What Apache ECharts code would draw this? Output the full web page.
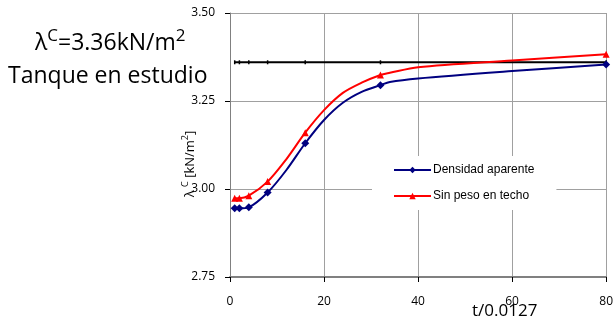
<!DOCTYPE html>
<html>
<head>
<meta charset="utf-8" />
<title>lambda C</title>
<script src="https://cdn.jsdelivr.net/npm/echarts@6.0.0/dist/echarts.min.js"></script>
<style>
  html, body { margin: 0; padding: 0; background: #fff; }
  #main { width: 616px; height: 322px; }
</style>
</head>
<body>
<div id="main"></div>
<script>
// datos
var tDensidad = [1, 2, 4, 8, 12, 16, 20, 24, 28, 32, 34, 40, 60, 80];
var vDensidad = [2.945, 2.945, 2.948, 2.990, 3.054, 3.130, 3.196, 3.245, 3.276, 3.295, 3.304, 3.314, 3.335, 3.354];
var tSinPeso = [1, 2, 4, 8, 12, 16, 20, 24, 28, 32, 34, 40, 60, 80];
var vSinPeso = [2.974, 2.974, 2.981, 3.021, 3.085, 3.160, 3.224, 3.273, 3.302, 3.324, 3.330, 3.346, 3.365, 3.383];
var tRef = [1, 2, 4, 8, 16, 32, 80];
var vRef = [3.36, 3.36, 3.36, 3.36, 3.36, 3.36, 3.36];
var conMarca = [1, 2, 4, 8, 16, 32, 80]; // puntos con marcador
var yTicks = [2.75, 3.00, 3.25, 3.50];
var xTicks = [0, 20, 40, 60, 80];
var nombres = ['Densidad aparente', 'Sin peso en techo'];

function pares(t, v) {
  return t.map(function (x, i) { return [x, v[i]]; });
}
function tamMarca(s) {
  return function (val) { return conMarca.indexOf(val[0]) >= 0 ? s : 0; };
}

var chart = echarts.init(document.getElementById('main'), null, { renderer: 'canvas' });
var fuente = '"Open Sans", sans-serif';

chart.setOption({
  animation: false,
  grid: { left: 230, right: 5, top: 13, bottom: 45, containLabel: false },
  legend: {
    data: nombres,
    orient: 'vertical',
    left: 372, top: 156,
    padding: [8, 22, 8, 21],
    itemGap: 14,
    itemWidth: 37, itemHeight: 8,
    backgroundColor: '#fff',
    textStyle: { fontFamily: 'Liberation Sans, Arial, sans-serif', fontSize: 12, color: '#000', padding: [0, 0, 0, -3] }
  },
  xAxis: {
    type: 'value', min: xTicks[0], max: xTicks[xTicks.length - 1], interval: 20,
    axisLine: { lineStyle: { color: '#808080', width: 2 } },
    axisTick: { show: true, length: 5, lineStyle: { color: '#000' } },
    axisLabel: { fontFamily: fuente, fontSize: 12, color: '#000', margin: 19,
      formatter: function (v) { return xTicks.indexOf(v) >= 0 ? String(v) : ''; } },
    splitLine: { show: true, lineStyle: { color: '#a0a0a0', width: 1 } }
  },
  yAxis: {
    type: 'value', min: yTicks[0], max: yTicks[yTicks.length - 1], interval: 0.25,
    axisLine: { show: true, lineStyle: { color: '#808080', width: 1 } },
    axisTick: { show: true, length: 5, lineStyle: { color: '#000' } },
    axisLabel: { fontFamily: fuente, fontSize: 12, color: '#000', margin: 15,
      formatter: function (v) { return v.toFixed(2); } },
    splitLine: { show: true, lineStyle: { color: '#a0a0a0', width: 1 } }
  },
  series: [
    {
      name: nombres[0], type: 'line', data: pares(tDensidad, vDensidad),
      smooth: 0.3, symbol: 'diamond', symbolSize: tamMarca(8),
      itemStyle: { color: '#000080' }, lineStyle: { color: '#000080', width: 2 }, z: 4
    },
    {
      name: nombres[1], type: 'line', data: pares(tSinPeso, vSinPeso),
      smooth: 0.3, symbol: 'triangle', symbolSize: tamMarca(7),
      itemStyle: { color: '#ff0000' }, lineStyle: { color: '#ff0000', width: 2 }, z: 3
    },
    {
      name: 'ref', type: 'line', data: pares(tRef, vRef),
      symbol: 'rect', symbolSize: [1.5, 4],
      itemStyle: { color: '#000' }, lineStyle: { color: '#000', width: 2 }, z: 2
    }
  ],
  graphic: [
    {
      type: 'text', left: 35, top: 28,
      style: {
        text: '{m|λ}{s|C}{m|=3.36kN/m}{s|2}',
        rich: {
          m: { fontFamily: fuente, fontSize: 23, color: '#000', lineHeight: 31 },
          s: { fontFamily: fuente, fontSize: 17, color: '#000', lineHeight: 17, verticalAlign: 'top' }
        }
      }
    },
    {
      type: 'text', left: 8, top: 65,
      style: { text: 'Tanque en estudio', fontFamily: fuente, fontSize: 23, fill: '#000' }
    },
    {
      type: 'text', x: 190, y: 164, rotation: Math.PI / 2,
      style: {
        text: '{m|λ }{s|C}{m| [kN/m}{s|2}{m|]}',
        align: 'center', verticalAlign: 'middle',
        rich: {
          m: { fontFamily: fuente, fontSize: 13, color: '#000', lineHeight: 18 },
          s: { fontFamily: fuente, fontSize: 9, color: '#000', lineHeight: 11, verticalAlign: 'top' }
        }
      }
    },
    {
      type: 'text', left: 472, top: 303,
      style: { text: 't/0.0127', fontFamily: fuente, fontSize: 17, fill: '#000' }
    }
  ]
});

window.onresize = function () { chart.resize(); };
</script>
</body>
</html>
